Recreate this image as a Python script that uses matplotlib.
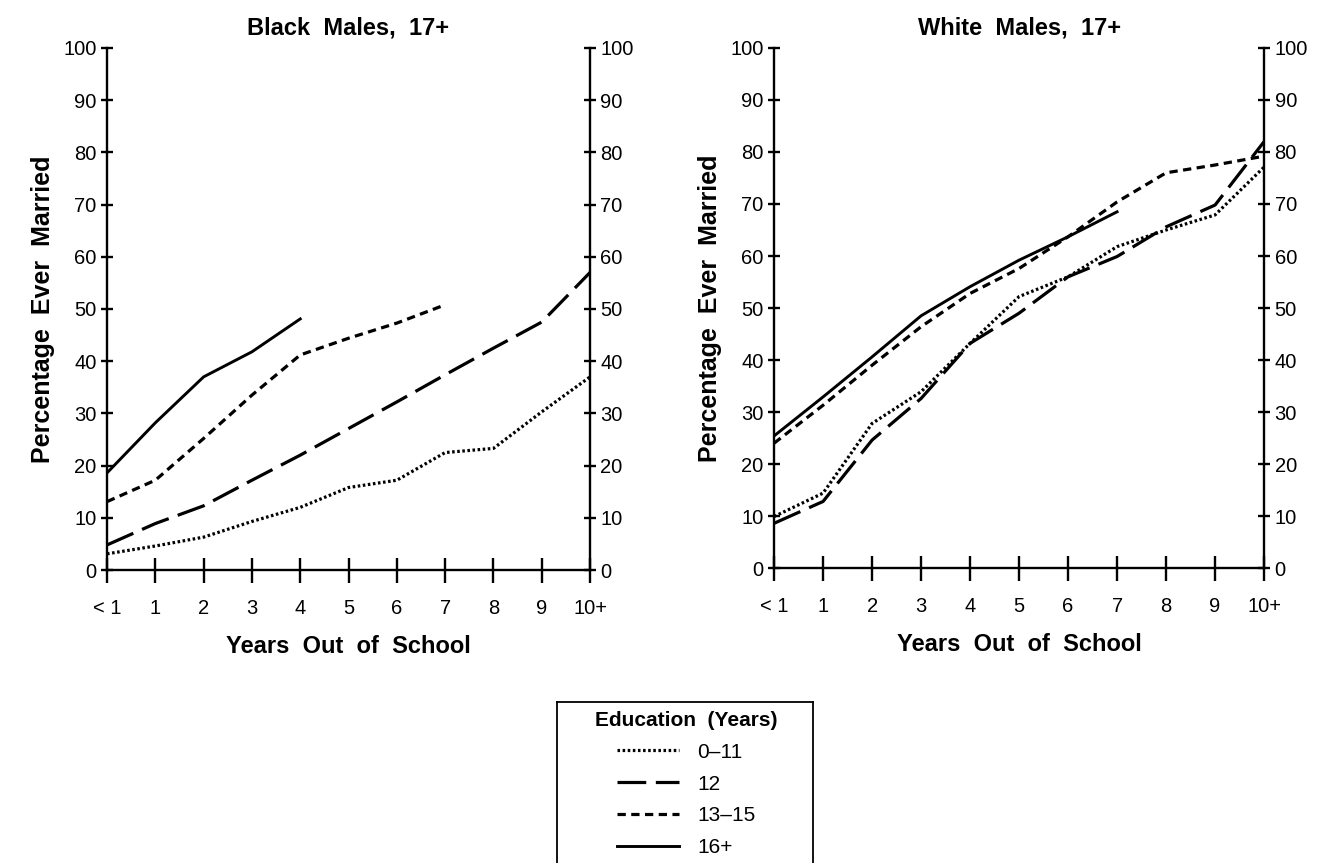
import matplotlib

matplotlib.use("Agg")
import matplotlib.pyplot as plt
from matplotlib.lines import Line2D

plt.rcParams["font.family"] = ["Liberation Sans", "DejaVu Sans"]

# data
x_labels = ["< 1", "1", "2", "3", "4", "5", "6", "7", "8", "9", "10+"]
y_ticks = [0, 10, 20, 30, 40, 50, 60, 70, 80, 90, 100]
groups = ["0\u201311", "12", "13\u201315", "16+"]

black_0_11 = [3.1, 4.6, 6.3, 9.3, 12.0, 15.8, 17.2, 22.5, 23.3, 30.3, 37.0]
black_12 = [4.8, 8.9, 12.3, 17.2, 22.0, 27.1, 32.2, 37.4, 42.5, 47.5, 57.0]
black_13_15 = [13.1, 17.2, 25.2, 33.5, 41.2, 44.4, 47.3, 50.8]
black_16 = [18.6, 28.2, 37.0, 41.8, 48.1]

white_0_11 = [9.9, 14.4, 27.8, 33.9, 43.2, 52.2, 56.0, 61.8, 65.0, 67.9, 77.1]
white_12 = [8.6, 12.8, 24.6, 32.6, 43.2, 49.0, 56.0, 59.9, 65.6, 69.8, 82.0]
white_13_15 = [24.0, 31.3, 39.0, 46.4, 52.8, 57.6, 63.7, 70.4, 76.0, 77.5, 79.2]
white_16 = [25.4, 32.9, 40.6, 48.5, 54.1, 59.2, 63.7, 68.5]

styles = {
    "0\u201311": dict(linestyle=(0, (0.8, 0.8)), linewidth=2.3),
    "12": dict(linestyle=(0, (9, 3)), linewidth=2.3),
    "13\u201315": dict(linestyle=(0, (2.6, 1.7)), linewidth=2.3),
    "16+": dict(linestyle="-", linewidth=2.1),
}

fig = plt.figure(figsize=(13.18, 8.63), dpi=100)
ax_b = fig.add_axes([0.0812, 0.3395, 0.3665, 0.6049])
ax_w = fig.add_axes([0.5873, 0.3418, 0.3718, 0.6026])

panels = [
    (ax_b, "Black  Males,  17+", [black_0_11, black_12, black_13_15, black_16]),
    (ax_w, "White  Males,  17+", [white_0_11, white_12, white_13_15, white_16]),
]

for ax, title, series in panels:
    for name, vals in zip(groups, series):
        ax.plot(range(len(vals)), vals, color="black", **styles[name])
    ax.set_xlim(0, 10)
    ax.set_ylim(0, 100)
    ax.set_xticks(range(len(x_labels)), x_labels)
    ax.set_yticks(y_ticks)
    ax.spines["top"].set_visible(False)
    for s in ["left", "right", "bottom"]:
        ax.spines[s].set_linewidth(1.7)
    ax.tick_params(axis="x", direction="inout", length=18, width=1.7,
                   labelsize=14.5, pad=12)
    ax.tick_params(axis="y", direction="inout", length=9, width=1.7,
                   labelsize=14.5, right=True, labelright=True, pad=3)
    ax.set_title(title, fontsize=17, fontweight="bold", pad=10)
    ax.set_xlabel("Years  Out  of  School", fontsize=17, fontweight="bold",
                  labelpad=12)
    ax.set_ylabel("Percentage  Ever  Married", fontsize=18, fontweight="bold",
                  labelpad=6)

# legend box runs off the bottom edge of the page
ax_leg = fig.add_axes([557 / 1318, 0, 256 / 1318, 1 - 702 / 863])
ax_leg.set_xticks([])
ax_leg.set_yticks([])
ax_leg.spines["bottom"].set_visible(False)
for s in ax_leg.spines.values():
    s.set_linewidth(1.3)
handles = [Line2D([], [], color="black", **styles[g]) for g in groups]
leg = ax_leg.legend(handles, groups, loc="center",
                    bbox_to_anchor=(686 / 1318, 1 - 784 / 863),
                    bbox_transform=fig.transFigure, frameon=False,
                    fontsize=15, title="Education  (Years)",
                    title_fontproperties={"weight": "bold", "size": 15},
                    handlelength=3.0, handletextpad=0.85, labelspacing=0.62,
                    borderpad=0.1)

fig.savefig("out.png", dpi=100)
